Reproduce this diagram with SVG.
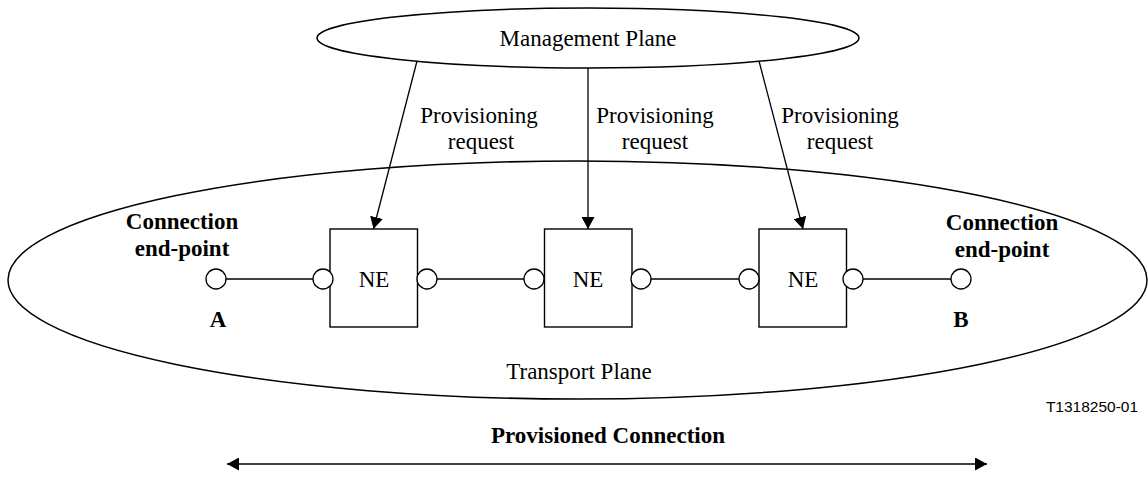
<svg xmlns="http://www.w3.org/2000/svg" width="1148" height="477" viewBox="0 0 1148 477">
<style>
.shape{fill:#fff;stroke:#000;stroke-width:1.4}
.ell{fill:none;stroke:#000;stroke-width:1.5}
.ln{fill:none;stroke:#000;stroke-width:1.3}
.port{fill:#fff;stroke:#000;stroke-width:1.3}
.t{font-family:"Liberation Serif","Times New Roman",serif;font-size:23px;fill:#000;text-anchor:middle}
.b{font-weight:bold}
.s{font-family:"Liberation Sans",Arial,sans-serif;font-size:15.5px;fill:#000;text-anchor:middle}
</style>
<defs>
<marker id="ah" markerUnits="userSpaceOnUse" markerWidth="13" markerHeight="13" refX="12" refY="6.5" orient="auto-start-reverse">
<path d="M0,0 L12,6.5 L0,13 z" fill="#000"/>
</marker>
</defs>
<rect width="1148" height="477" fill="#fff"/>
<g id="transport-plane">
<ellipse class="ell" cx="577.5" cy="280" rx="569.5" ry="119"/>
<text class="t" x="579" y="379">Transport Plane</text>
</g>
<g id="management-plane">
<ellipse class="ell" cx="588" cy="38" rx="271" ry="30" fill="#fff"/>
<text class="t" x="588" y="46">Management Plane</text>
</g>
<g id="connectors">
<line class="ln" x1="417" y1="61" x2="373.5" y2="229" marker-end="url(#ah)"/>
<line class="ln" x1="588" y1="68" x2="588" y2="229" marker-end="url(#ah)"/>
<line class="ln" x1="759" y1="61" x2="803" y2="229" marker-end="url(#ah)"/>
<line class="ln" x1="226" y1="279" x2="313" y2="279"/>
<line class="ln" x1="437" y1="279" x2="524" y2="279"/>
<line class="ln" x1="651" y1="279" x2="739" y2="279"/>
<line class="ln" x1="863" y1="279" x2="951" y2="279"/>
<line class="ln" x1="227" y1="464" x2="987" y2="464" marker-start="url(#ah)" marker-end="url(#ah)"/>
</g>
<g id="labels">
<text class="t" x="479" y="123">Provisioning</text>
<text class="t" x="481" y="149">request</text>
<text class="t" x="655" y="123">Provisioning</text>
<text class="t" x="655" y="149">request</text>
<text class="t" x="840" y="123">Provisioning</text>
<text class="t" x="840" y="149">request</text>
<text class="t b" x="608" y="443">Provisioned Connection</text>
<text class="s" x="1092" y="412">T1318250-01</text>
</g>
<g id="endpoint-a">
<text class="t b" x="182" y="229">Connection</text>
<text class="t b" x="182" y="256">end-point</text>
<circle class="port" cx="216" cy="279" r="10"/>
<text class="t b" x="218" y="327">A</text>
</g>
<g id="endpoint-b">
<text class="t b" x="1002" y="230">Connection</text>
<text class="t b" x="1002" y="257">end-point</text>
<circle class="port" cx="961" cy="279" r="10"/>
<text class="t b" x="961" y="327">B</text>
</g>
<g id="ne1">
<rect class="shape" x="330" y="229" width="87.5" height="98"/>
<text class="t" x="374" y="287">NE</text>
<circle class="port" cx="323" cy="279" r="10"/>
<circle class="port" cx="427" cy="279" r="10"/>
</g>
<g id="ne2">
<rect class="shape" x="544.5" y="229" width="87.5" height="98"/>
<text class="t" x="588" y="287">NE</text>
<circle class="port" cx="534" cy="279" r="10"/>
<circle class="port" cx="641" cy="279" r="10"/>
</g>
<g id="ne3">
<rect class="shape" x="759" y="229" width="87.5" height="98"/>
<text class="t" x="803" y="287">NE</text>
<circle class="port" cx="749" cy="279" r="10"/>
<circle class="port" cx="853" cy="279" r="10"/>
</g>
</svg>
